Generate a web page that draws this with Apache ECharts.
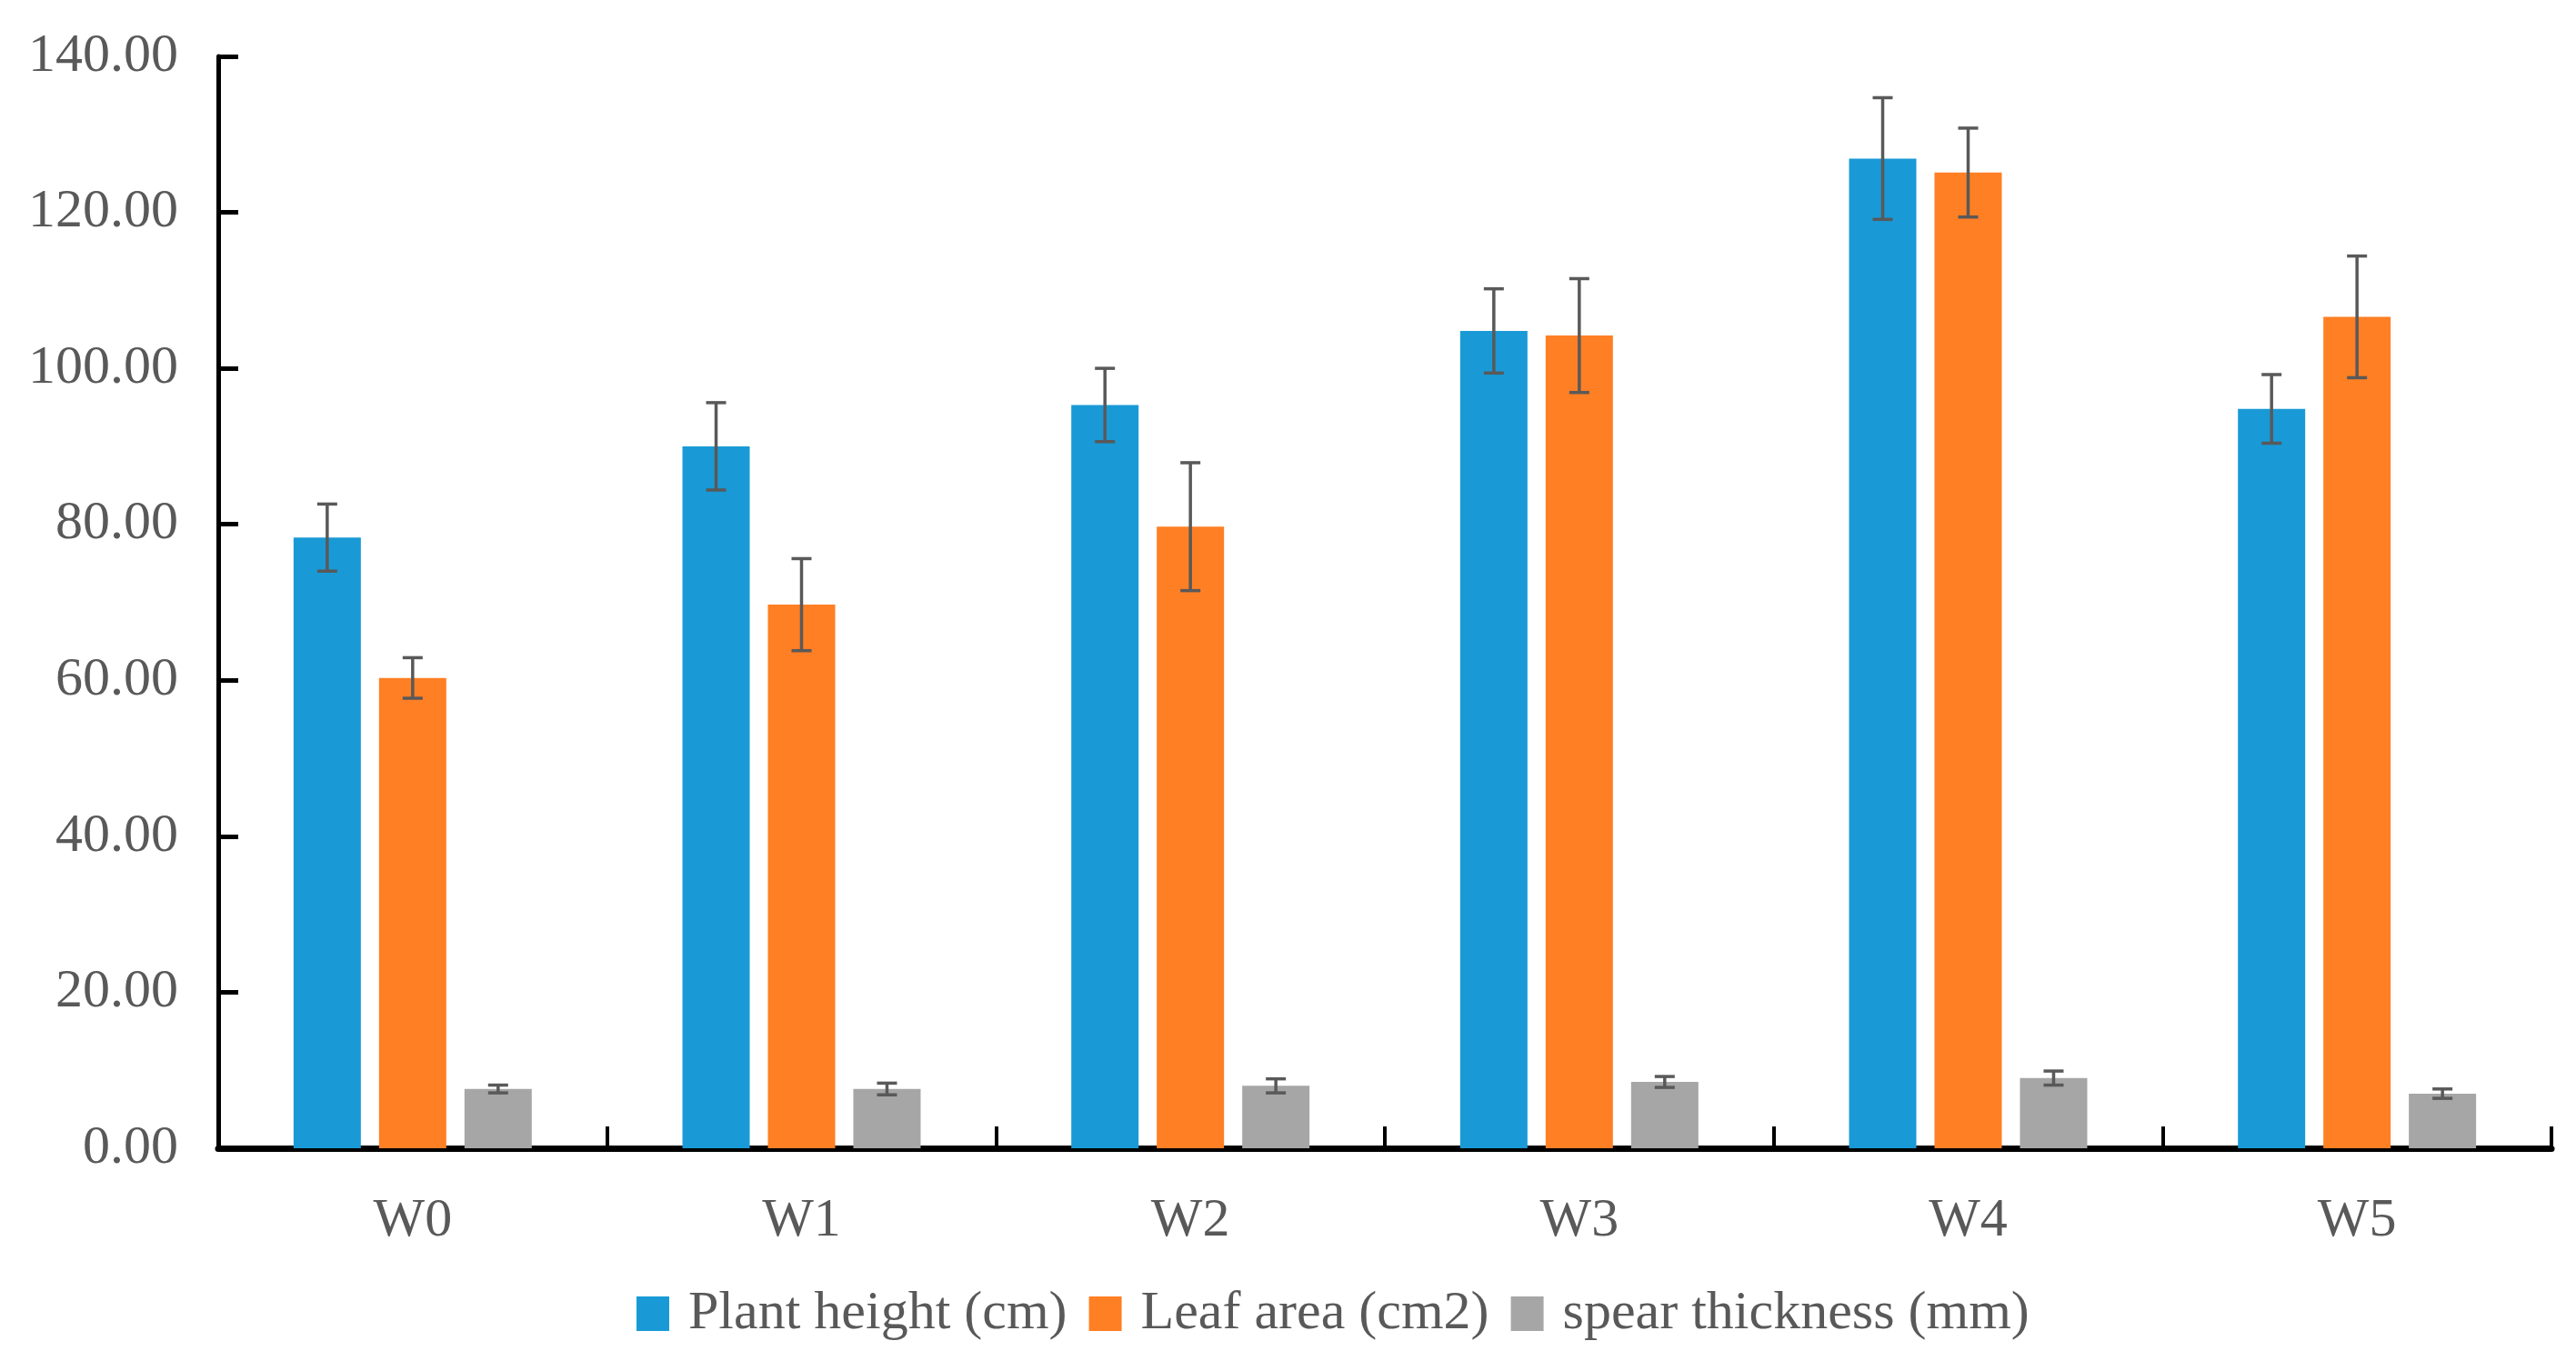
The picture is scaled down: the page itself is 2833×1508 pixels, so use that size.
<!DOCTYPE html>
<html>
<head>
<meta charset="utf-8">
<script src="https://cdn.jsdelivr.net/npm/echarts@6/dist/echarts.min.js"></script>
<style>
html,body{margin:0;padding:0;background:#fff;}
#chart{width:2833px;height:1508px;}
</style>
</head>
<body>
<div id="chart"></div>
<script>
const categories = ['W0','W1','W2','W3','W4','W5'];
const seriesNames = ['Plant height (cm)','Leaf area (cm2)','spear thickness (mm)'];
const plantHeight = [78.3, 90.0, 95.3, 104.8, 126.9, 94.8];
const plantHeightErr = [4.3, 5.6, 4.7, 5.4, 7.8, 4.4];
const leafArea = [60.3, 69.7, 79.7, 104.2, 125.1, 106.6];
const leafAreaErr = [2.6, 5.9, 8.2, 7.3, 5.7, 7.8];
const spearThickness = [7.6, 7.6, 8.0, 8.5, 9.0, 7.0];
const spearThicknessErr = [0.5, 0.75, 0.9, 0.7, 0.9, 0.6];
const yTicks = [0, 20, 40, 60, 80, 100, 120, 140];

const colors = ['#199AD6', '#FF7F24', '#A6A6A6'];
const BAR_W = 74;
const BAR_GAP = 0.27;
const STEP = BAR_W * (1 + BAR_GAP);
const FONT = 'Liberation Serif';
const TXT = '#595959';
const FS = 60;

const means = [plantHeight, leafArea, spearThickness];
const errs = [plantHeightErr, leafAreaErr, spearThicknessErr];

const errData = [];
means.forEach((m, s) => {
  m.forEach((v, i) => {
    errData.push([i, v - errs[s][i], v + errs[s][i], s]);
  });
});

const chart = echarts.init(document.getElementById('chart'));
const barSeries = seriesNames.map((name, s) => ({
  name: name,
  type: 'bar',
  data: means[s],
  barWidth: BAR_W,
  barGap: (BAR_GAP * 100) + '%',
  itemStyle: { color: colors[s] },
  z: 2
}));

chart.setOption({
  animation: false,
  backgroundColor: '#ffffff',
  textStyle: { fontFamily: FONT },
  grid: { left: 240, right: 27, top: 62, bottom: 245, containLabel: false },
  legend: {
    data: seriesNames,
    left: 695,
    top: 1410,
    icon: 'rect',
    itemWidth: 36,
    itemHeight: 38,
    itemGap: 24,
    textStyle: { fontFamily: FONT, fontSize: FS, color: TXT, padding: [0, 0, 0, 16] }
  },
  xAxis: {
    type: 'category',
    data: categories,
    axisLine: { show: true, lineStyle: { color: '#000', width: 7 } },
    axisTick: { show: true, inside: true, length: 24, lineStyle: { color: '#000', width: 4 } },
    axisLabel: { fontFamily: FONT, fontSize: FS, color: TXT, margin: 50 },
    splitLine: { show: false }
  },
  yAxis: {
    type: 'value',
    min: yTicks[0],
    max: yTicks[yTicks.length - 1],
    interval: yTicks[1] - yTicks[0],
    axisLine: { show: true, lineStyle: { color: '#000', width: 5 } },
    axisTick: { show: true, inside: true, length: 22, lineStyle: { color: '#000', width: 5 } },
    axisLabel: { fontFamily: FONT, fontSize: FS, color: TXT, margin: 44, formatter: v => v.toFixed(2) },
    splitLine: { show: false }
  },
  series: barSeries.concat([{
    type: 'custom',
    name: 'err',
    z: 5,
    data: errData,
    renderItem: function (params, api) {
      const cat = api.value(0);
      const lo = api.value(1);
      const hi = api.value(2);
      const s = api.value(3);
      const pHi = api.coord([cat, hi]);
      const pLo = api.coord([cat, lo]);
      const x = pHi[0] + (s - 1) * STEP;
      const cap = 11;
      const style = { stroke: '#595959', lineWidth: 3.5 };
      return {
        type: 'group',
        children: [
          { type: 'line', shape: { x1: x, y1: pHi[1], x2: x, y2: pLo[1] }, style: style },
          { type: 'line', shape: { x1: x - cap, y1: pHi[1], x2: x + cap, y2: pHi[1] }, style: style },
          { type: 'line', shape: { x1: x - cap, y1: pLo[1], x2: x + cap, y2: pLo[1] }, style: style }
        ]
      };
    }
  }])
});
</script>
</body>
</html>
